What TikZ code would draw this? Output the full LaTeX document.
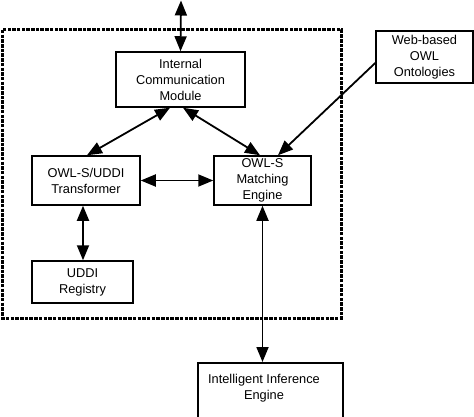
\documentclass[tikz,border=0pt]{standalone}
\usepackage{fontspec}
\setmainfont{Liberation Sans}
\usetikzlibrary{arrows.meta}
\begin{document}
\begin{tikzpicture}[x=1pt,y=-1pt,
  box/.style={draw, line width=1.5pt, align=center, inner sep=0pt,
    font=\fontsize{12.8}{16}\selectfont},
  tip/.style={Triangle[length=15pt,width=12pt]},
  link/.style={line width=1.8pt, {Triangle[length=15pt,width=12pt]}-{Triangle[length=15pt,width=12pt]}},
  onelink/.style={line width=1.8pt, -{Triangle[length=15pt,width=12pt]}},
  frame/.style={line width=3pt, dash pattern=on 3.5pt off 1.2pt}]
\useasboundingbox (0,0) rectangle (474,417);
\draw[frame] (2.5,30) rectangle (341.5,318);
\node[box, minimum width=129pt, minimum height=55pt] (icm) at (180.5,79.5) {Internal\\Communication\\Module};
\node[box, minimum width=97pt, minimum height=52pt] (web) at (424.5,57) {Web-based\\OWL\\Ontologies};
\node[box, minimum width=108pt, minimum height=49pt] (trans) at (86,180.5) {OWL-S/UDDI\\Transformer};
\node[box, minimum width=97pt, minimum height=49pt] (match) at (262.5,180.5) {OWL-S\\Matching\\Engine};
\node[box, minimum width=101pt, minimum height=42pt] (uddi) at (82.5,282) {UDDI\\Registry};
\node[box, minimum width=145pt, minimum height=80pt, anchor=north] (inf) at (270.5,362) {};
\node[align=center, inner sep=0pt, font=\fontsize{12.8}{16}\selectfont] (inftext) at (264,388) {Intelligent Inference\\Engine};
\coordinate (top) at (181,0.5);
\draw[link] (top) -- (icm.north);
\draw[link] ([xshift=-10.5pt]icm.south) -- ([xshift=1pt]trans.north);
\draw[link] ([xshift=2.5pt]icm.south) -- ([xshift=-2.5pt]match.north);
\draw[onelink] ([yshift=-6pt]web.west) -- ([xshift=15.5pt]match.north);
\draw[link] (trans.east) -- (match.west);
\draw[link] ([xshift=-3pt]trans.south) -- ([xshift=0.5pt]uddi.north);
\draw[link] (match.south) -- ([xshift=-8pt]inf.north);
\end{tikzpicture}
\end{document}
